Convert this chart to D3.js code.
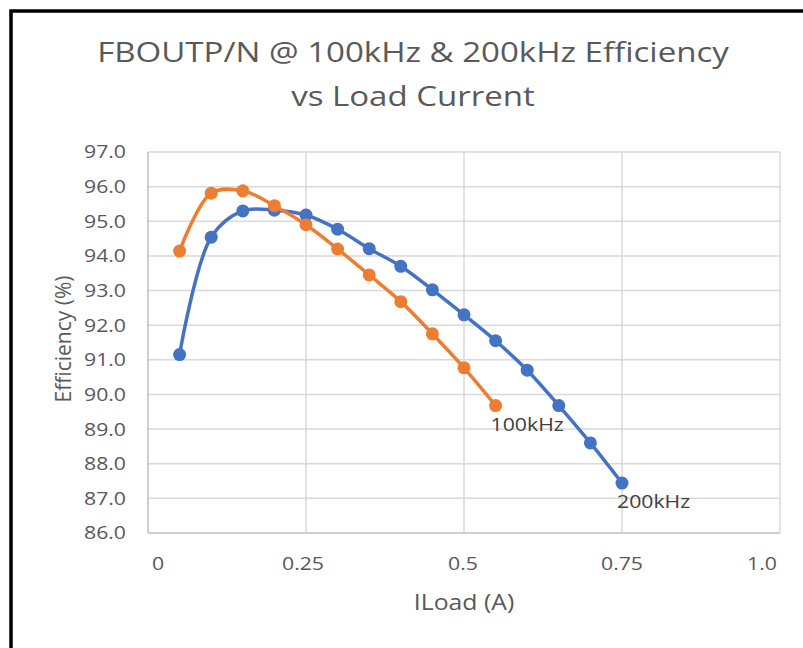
<!DOCTYPE html>
<html>
<head>
<meta charset="utf-8">
<script src="https://cdn.jsdelivr.net/npm/d3@7"></script>
<style>
  body { margin: 0; background: #fff; }
  svg { display: block; font-family: 'Open Sans', 'Noto Sans', sans-serif; }
</style>
</head>
<body>
<div id="chart"></div>
<script>
// load current (A)
const loads = [0.05, 0.1, 0.15, 0.2, 0.25, 0.3, 0.35, 0.4, 0.45, 0.5, 0.55, 0.6, 0.65, 0.7, 0.75];

const eff200k = [91.15, 94.54, 95.3, 95.32, 95.18, 94.77, 94.21, 93.7, 93.02, 92.3, 91.55, 90.7, 89.68, 88.6, 87.44];
const eff100k = [94.14, 95.81, 95.88, 95.45, 94.9, 94.2, 93.45, 92.68, 91.75, 90.77, 89.68];

const series = [
  { name: '200kHz', values: eff200k, color: '#4472C4' },
  { name: '100kHz', values: eff100k, color: '#ED7D31' }
];

const xTicks = [0, 0.25, 0.5, 0.75, 1.0];
const xTickLabels = ['0', '0.25', '0.5', '0.75', '1.0'];
const yTicks = d3.range(86, 97.01, 1);

const width = 803;
const height = 648;
const margin = { top: 152, right: 23, bottom: 115, left: 148 };

// the screenshot is a bit wider than the font, so stretch text horizontally
const stretch = 1.18;
const textColor = '#595959';

const svg = d3.select('#chart')
  .append('svg')
  .attr('width', width)
  .attr('height', height);

function addText(parent, x, y, str, size, anchor, fill) {
  return parent
    .append('text')
    .attr('transform', `translate(${x},${y}) scale(${stretch},1)`)
    .attr('text-anchor', anchor || 'start')
    .attr('fill', fill || textColor)
    .style('font-size', size + 'px')
    .text(str);
}

// outer frame (cut off at right / bottom like the screenshot)
svg.append('rect')
  .attr('x', 11)
  .attr('y', 11)
  .attr('width', width + 20)
  .attr('height', height + 20)
  .attr('fill', 'none')
  .attr('stroke', '#000')
  .attr('stroke-width', 3.5);

const x = d3.scaleLinear().domain([0, 1]).range([margin.left, width - margin.right]);
const y = d3.scaleLinear().domain([86, 97]).range([height - margin.bottom, margin.top]);

// gridlines
svg.append('g')
  .selectAll('line')
  .data(yTicks)
  .enter()
  .append('line')
  .attr('x1', x(0))
  .attr('x2', x(1))
  .attr('y1', (d) => y(d))
  .attr('y2', (d) => y(d))
  .attr('stroke', (d) => (d === 86 ? '#bfbfbf' : '#d9d9d9'))
  .attr('stroke-width', 1.5);

svg.append('g')
  .selectAll('line')
  .data(xTicks)
  .enter()
  .append('line')
  .attr('x1', (d) => x(d))
  .attr('x2', (d) => x(d))
  .attr('y1', y(86))
  .attr('y2', y(97))
  .attr('stroke', (d) => (d === 0 ? '#bfbfbf' : '#d9d9d9'))
  .attr('stroke-width', 1.5);

// y tick labels
const yLab = svg.append('g');
yTicks.forEach((t) => {
  addText(yLab, 126, y(t), t.toFixed(1), 18, 'end').attr('dy', '0.36em');
});

// x tick labels - excel pulls the end ones inward
const xLabelNudge = [10, -3, -1, 0, -18];
const xLab = svg.append('g');
xTicks.forEach((t, i) => {
  addText(xLab, x(t) + xLabelNudge[i], 570, xTickLabels[i], 18, 'middle');
});

// axis titles
addText(svg, 464, 610, 'ILoad (A)', 21, 'middle');

svg.append('text')
  .attr('transform', 'translate(63,339) rotate(-90)')
  .attr('dy', '0.36em')
  .attr('text-anchor', 'middle')
  .attr('fill', textColor)
  .style('font-size', '21px')
  .text('Efficiency (%)');

// title
addText(svg, 413, 62, 'FBOUTP/N @ 100kHz & 200kHz Efficiency', 28, 'middle');
addText(svg, 413, 106, 'vs Load Current', 28, 'middle');

// lines + markers
const line = d3.line()
  .x((d) => x(d[0]))
  .y((d) => y(d[1]))
  .curve(d3.curveCatmullRom.alpha(0.5));

series.forEach((s) => {
  const pts = s.values.map((v, i) => [loads[i], v]);
  const g = svg.append('g');

  g.append('path')
    .datum(pts)
    .attr('d', line)
    .attr('fill', 'none')
    .attr('stroke', s.color)
    .attr('stroke-width', 3.5)
    .attr('stroke-linejoin', 'round');

  g.selectAll('circle')
    .data(pts)
    .enter()
    .append('circle')
    .attr('cx', (d) => x(d[0]))
    .attr('cy', (d) => y(d[1]))
    .attr('r', 6.5)
    .attr('fill', s.color);

  // series label below the last point
  const last = pts[pts.length - 1];
  addText(g, x(last[0]) - 5, y(last[1]) + 25, s.name, 18, 'start', '#404040');
});
</script>
</body>
</html>
